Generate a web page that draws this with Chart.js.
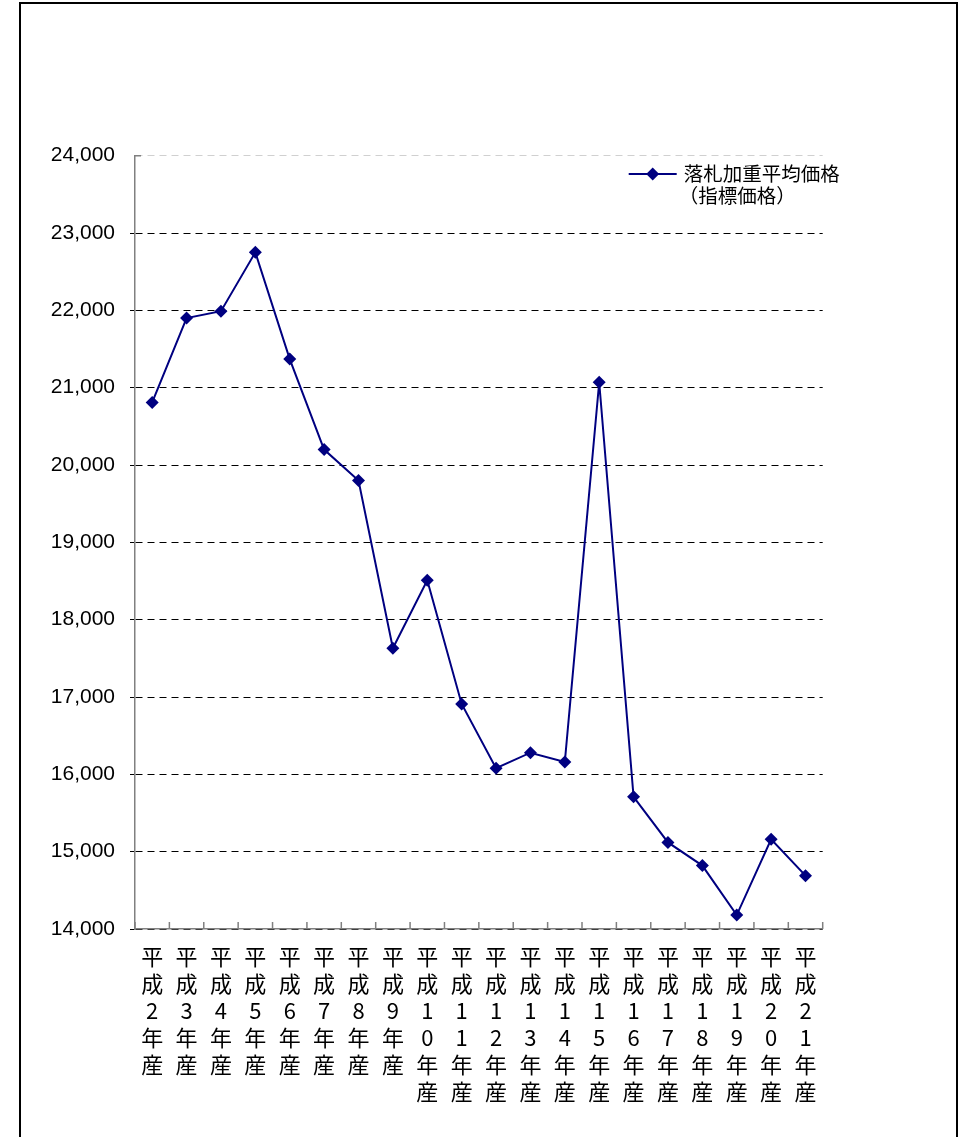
<!DOCTYPE html>
<html>
<head>
<meta charset="utf-8">
<script src="https://cdn.jsdelivr.net/npm/chart.js@4.4.1/dist/chart.umd.min.js"></script>
<style>
  html, body { margin: 0; padding: 0; background: #fff; }
  #wrap { position: absolute; left: 0; top: 0; width: 962px; height: 1137px; }
</style>
</head>
<body>
<div id="wrap"><canvas id="c" width="962" height="1137"></canvas></div>
<script>
// ---- data ----
const categories = [
  ['平','成','2','年','産'],
  ['平','成','3','年','産'],
  ['平','成','4','年','産'],
  ['平','成','5','年','産'],
  ['平','成','6','年','産'],
  ['平','成','7','年','産'],
  ['平','成','8','年','産'],
  ['平','成','9','年','産'],
  ['平','成','1','0','年','産'],
  ['平','成','1','1','年','産'],
  ['平','成','1','2','年','産'],
  ['平','成','1','3','年','産'],
  ['平','成','1','4','年','産'],
  ['平','成','1','5','年','産'],
  ['平','成','1','6','年','産'],
  ['平','成','1','7','年','産'],
  ['平','成','1','8','年','産'],
  ['平','成','1','9','年','産'],
  ['平','成','2','0','年','産'],
  ['平','成','2','1','年','産']
];
const priceValues = [
  20810, 21900, 21990, 22750, 21370, 20200, 19800, 17630, 18510, 16910,
  16080, 16280, 16160, 21070, 15710, 15120, 14820, 14180, 15160, 14690
];
const legendLines = ['落札加重平均価格', '（指標価格）'];
const yMin = 14000, yMax = 24000, yStep = 1000;

const NAVY = '#000080';
const CJK = '"Noto Sans CJK JP", "Noto Sans", sans-serif';

const framePlugin = {
  id: 'frame',
  beforeDraw(chart) {
    const ctx = chart.ctx;
    ctx.save();
    ctx.fillStyle = '#fff';
    ctx.fillRect(0, 0, chart.width, chart.height);
    ctx.strokeStyle = '#000';
    ctx.lineWidth = 2;
    ctx.strokeRect(20, 3, 937, 1200);
    ctx.restore();
  },
  afterDraw(chart) {
    const ctx = chart.ctx;
    const xs = chart.scales.x;
    const area = chart.chartArea;
    ctx.save();
    // x-axis inside tick marks at category boundaries
    ctx.strokeStyle = '#808080';
    ctx.lineWidth = 1.5;
    const n = xs.ticks.length;
    const step = n > 1 ? xs.getPixelForTick(1) - xs.getPixelForTick(0) : 0;
    ctx.beginPath();
    for (let i = 0; i <= n; i++) {
      const x = xs.getPixelForTick(0) - step / 2 + i * step;
      ctx.moveTo(x, area.bottom);
      ctx.lineTo(x, area.bottom - 7);
    }
    // inside tick at top of y axis
    const ys = chart.scales.y;
    const yt = ys.getPixelForValue(yMax);
    ctx.moveTo(area.left, yt);
    ctx.lineTo(area.left + 6, yt);
    ctx.stroke();

    // legend
    const lx = area.right - 194, ly = 174;
    ctx.strokeStyle = NAVY;
    ctx.lineWidth = 2;
    ctx.beginPath();
    ctx.moveTo(lx, ly);
    ctx.lineTo(lx + 48, ly);
    ctx.stroke();
    const cx = lx + 24, r = 6.5;
    ctx.fillStyle = NAVY;
    ctx.beginPath();
    ctx.moveTo(cx, ly - r);
    ctx.lineTo(cx + r, ly);
    ctx.lineTo(cx, ly + r);
    ctx.lineTo(cx - r, ly);
    ctx.closePath();
    ctx.fill();
    ctx.fillStyle = '#000';
    ctx.font = '19.5px ' + CJK;
    ctx.textAlign = 'left';
    ctx.textBaseline = 'middle';
    ctx.fillText(legendLines[0], lx + 55, ly);
    ctx.fillText(legendLines[1], lx + 50, ly + 22);
    ctx.restore();
  }
};

new Chart(document.getElementById('c'), {
  type: 'line',
  data: {
    labels: categories,
    datasets: [{
      label: legendLines.join(''),
      data: priceValues,
      borderColor: NAVY,
      backgroundColor: NAVY,
      borderWidth: 2,
      pointStyle: 'rectRot',
      pointRadius: 6.5,
      pointHoverRadius: 6.5,
      pointBackgroundColor: NAVY,
      pointBorderColor: NAVY,
      pointBorderWidth: 0,
      tension: 0,
      fill: false
    }]
  },
  options: {
    responsive: false,
    animation: false,
    devicePixelRatio: 1,
    events: [],
    layout: { padding: { left: 0, top: 155.7, right: 962 - 822.7, bottom: 0 } },
    plugins: { legend: { display: false }, tooltip: { enabled: false }, title: { display: false } },
    scales: {
      x: {
        type: 'category',
        offset: true,
        grid: { display: false, drawTicks: false },
        border: { display: true, color: '#808080', width: 1.5 },
        ticks: {
          autoSkip: false,
          maxRotation: 0,
          minRotation: 0,
          padding: 14.5,
          color: '#000',
          font: { family: CJK, size: 22, lineHeight: '27px' }
        },
        afterFit(scale) { scale.height = 1137 - 929; }
      },
      y: {
        min: yMin,
        max: yMax,
        grid: {
          display: true,
          drawTicks: true,
          tickLength: 5,
          color: (c) => (c.tick && c.tick.value === yMax) ? '#d0d0d0' : '#000',
          tickColor: (c) => (c.tick && c.tick.value === yMax) ? 'rgba(0,0,0,0)' : '#000',
          lineWidth: 1,
          tickWidth: 1
        },
        border: { display: true, color: '#808080', width: 1.5, dash: [7, 5] },
        ticks: {
          stepSize: yStep,
          padding: 15,
          color: '#000',
          font: { family: '"Liberation Sans", Arial, sans-serif', size: 21 },
          callback: (v) => Number(v).toLocaleString('en-US')
        },
        afterFit(scale) { scale.width = 135; }
      }
    }
  },
  plugins: [framePlugin]
});
</script>
</body>
</html>
